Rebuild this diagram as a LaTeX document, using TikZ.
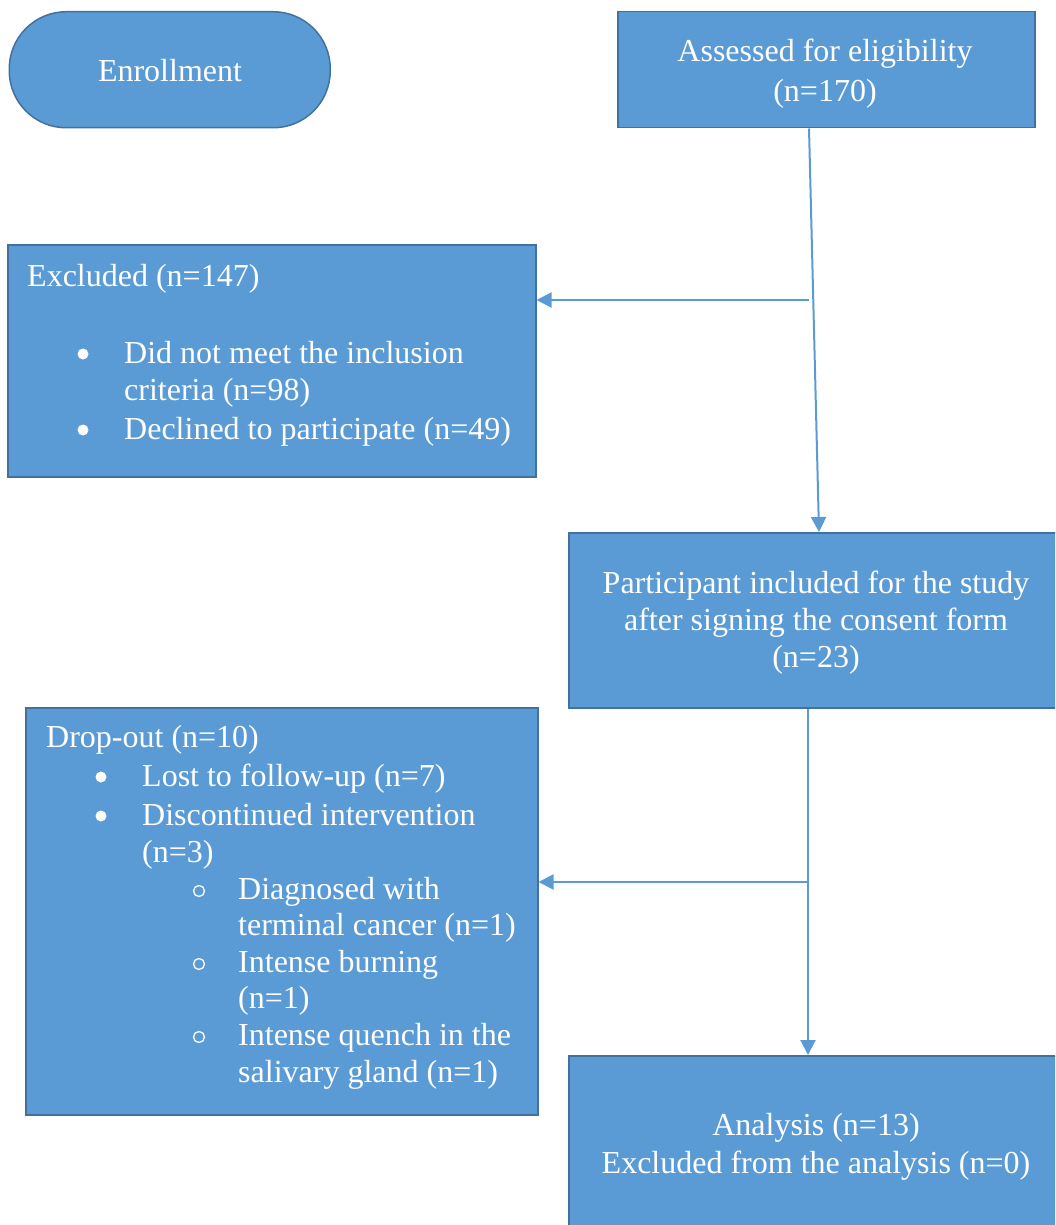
\documentclass[tikz,border=0pt]{standalone}
\usepackage{fontspec}
\setmainfont{Liberation Serif}
\usetikzlibrary{arrows.meta,calc}

\definecolor{boxblue}{HTML}{5B9BD5}
\definecolor{edgeblue}{HTML}{41719C}

\tikzset{
    box/.style={draw=edgeblue, fill=boxblue, line width=1.5pt, inner sep=0pt, anchor=north west},
    txt/.style={text=white, inner sep=0pt, anchor=base west, font=\fontsize{32}{37}\selectfont},
    ctxt/.style={txt, anchor=base},
    dot/.style={circle, fill=white, inner sep=0pt, minimum size=11pt},
    ring/.style={circle, draw=white, line width=1.3pt, inner sep=0pt, minimum size=11pt},
    link/.style={draw=boxblue, line width=2pt, -{Triangle[width=15pt,length=15pt]}}
}

\begin{document}
\begin{tikzpicture}[x=1pt, y=-1pt]

    \useasboundingbox (0,0) rectangle (1055,1225);
    \clip (0,0) rectangle (1055,1225);

    % boxes
    \node[box, rounded corners=57pt, minimum width=321pt, minimum height=116pt] (enrol) at (8.5,11) {};
    \node[box, minimum width=417pt, minimum height=116pt] (assess) at (617,11) {};
    \node[box, minimum width=528pt, minimum height=232pt] (excl) at (7,244) {};
    \node[box, minimum width=520pt, minimum height=175pt] (incl) at (568,532) {};
    \node[box, minimum width=512pt, minimum height=407pt] (drop) at (25,707) {};
    \node[box, minimum width=520pt, minimum height=200pt] (anal) at (568,1055) {};

    % texts
    \node[ctxt] (enroltxt) at (170,82) {Enrollment};

    \node[ctxt] (assessa) at (825,62) {Assessed for eligibility};
    \node[ctxt] (assessb) at (825,102) {(n=170)};

    \node[txt] (exclhead) at (27,286) {Excluded (n=147)};
    \node[dot] (exclbula) at (83,354) {};
    \node[txt] (exclitema) at (124,363) {Did not meet the inclusion};
    \node[txt] (exclitemb) at (124,400) {criteria (n=98)};
    \node[dot] (exclbulb) at (83,430) {};
    \node[txt] (exclitemc) at (124,439) {Declined to participate (n=49)};

    \node[ctxt] (incla) at (816,593) {Participant included for the study};
    \node[ctxt] (inclb) at (816,630) {after signing the consent form};
    \node[ctxt] (inclc) at (816,667) {(n=23)};

    \node[txt] (drophead) at (46,747) {Drop-out (n=10)};
    \node[dot] (dropbula) at (101,777) {};
    \node[txt] (dropitema) at (142,786) {Lost to follow-up (n=7)};
    \node[dot] (dropbulb) at (101,816) {};
    \node[txt] (dropitemb) at (142,825) {Discontinued intervention};
    \node[txt] (dropitemc) at (142,862) {(n=3)};
    \node[ring] (dropsuba) at (199,891) {};
    \node[txt] (dropsubitema) at (238,899) {Diagnosed with};
    \node[txt] (dropsubitemb) at (238,935) {terminal cancer (n=1)};
    \node[ring] (dropsubb) at (199,964) {};
    \node[txt] (dropsubitemc) at (238,972) {Intense burning};
    \node[txt] (dropsubitemd) at (238,1008) {(n=1)};
    \node[ring] (dropsubc) at (199,1037) {};
    \node[txt] (dropsubiteme) at (238,1045) {Intense quench in the};
    \node[txt] (dropsubitemf) at (238,1082) {salivary gland (n=1)};

    \node[ctxt] (anala) at (816,1135) {Analysis (n=13)};
    \node[ctxt] (analb) at (816,1173) {Excluded from the analysis (n=0)};

    % connectors
    \coordinate (splitexcl) at (809,300);
    \coordinate (splitdrop) at (809,882);

    \draw[link] ($(assess.south west)+(192,0)$) -- ($(incl.north west)+(251,0)$);
    \draw[link] (splitexcl) -- (splitexcl -| excl.east);
    \draw[link] ($(incl.south west)+(240,0)$) -- ($(anal.north west)+(240,0)$);
    \draw[link] (splitdrop) -- (splitdrop -| drop.east);

\end{tikzpicture}
\end{document}
